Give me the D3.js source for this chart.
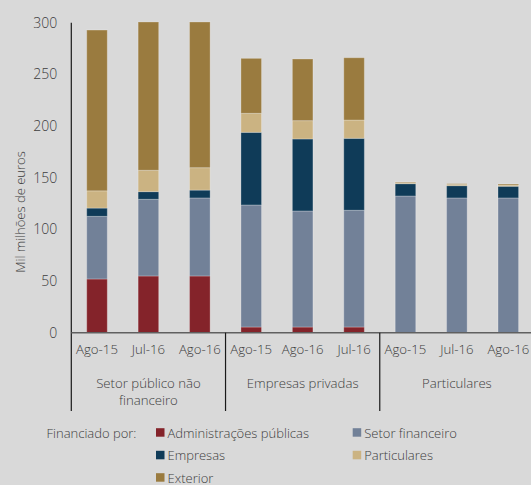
<!DOCTYPE html>
<html>
<head>
<meta charset="utf-8">
<script src="https://cdn.jsdelivr.net/npm/d3@7"></script>
<style>
  body { margin: 0; background: #d9d9d9; }
  svg { display: block; font-family: "Open Sans", sans-serif; font-weight: 300; }
  text { fill: #3d3d3d; }
</style>
</head>
<body>
<svg id="chart" width="531" height="485"></svg>
<script>
"use strict";

// Data
const groups = ["Setor público não|financeiro", "Empresas privadas", "Particulares"];
const periods = [
  ["Ago-15", "Jul-16", "Ago-16"],
  ["Ago-15", "Ago-16", "Jul-16"],
  ["Ago-15", "Jul-16", "Ago-16"]
];
const seriesNames = ["Administrações públicas", "Setor financeiro", "Empresas", "Particulares", "Exterior"];
const seriesColors = ["#84232a", "#728198", "#0f3b58", "#cbb382", "#9a7b3f"];

// values per bar, in bar order (mil milhões de euros)
const adminPublicas = [52, 54.9, 54.9, 5.5, 5.5, 5.5, 0, 0, 0];
const setorFinanceiro = [60.6, 74.2, 75.5, 118.1, 112.3, 113, 132.3, 130.4, 130.4];
const empresas = [8, 7.4, 7.6, 70.3, 69.7, 69.6, 11.9, 11.9, 11.3];
const particulares = [16.7, 20.7, 21.7, 18.4, 17.7, 17.7, 1, 1.3, 1.2];
const exterior = [155.6, 143.5, 141, 53.2, 59.7, 60.3, 0.6, 0.6, 1];

const yTicks = [0, 50, 100, 150, 200, 250, 300];

// build table
const bars = [];
groups.forEach((g, gi) => {
  periods[gi].forEach((p, pi) => {
    const i = gi * 3 + pi;
    bars.push({
      id: i, group: gi, period: p,
      s0: adminPublicas[i], s1: setorFinanceiro[i], s2: empresas[i],
      s3: particulares[i], s4: exterior[i]
    });
  });
});

const svg = d3.select("#chart");
const plot = { left: 71.3, right: 534, top: 22.7, bottom: 332.7 };

const x = d3.scaleBand()
  .domain(bars.map(d => d.id))
  .range([plot.left, plot.right])
  .paddingInner(0.6)
  .paddingOuter(0.3);

const y = d3.scaleLinear()
  .domain([0, 300])
  .range([plot.bottom, plot.top]);

const stack = d3.stack().keys(["s0", "s1", "s2", "s3", "s4"]);
const layers = stack(bars);

svg.append("g")
  .selectAll("g")
  .data(layers)
  .join("g")
  .attr("fill", (d, i) => seriesColors[i])
  .selectAll("rect")
  .data(d => d)
  .join("rect")
  .attr("x", d => x(d.data.id))
  .attr("width", x.bandwidth())
  .attr("y", d => y(d[1]))
  .attr("height", d => Math.max(0, y(d[0]) - y(d[1])))
  .attr("stroke", "rgba(255,255,255,0.25)")
  .attr("stroke-width", 1);

// y axis
const yAxis = d3.axisLeft(y).tickValues(yTicks).tickSize(0).tickPadding(14);
const gY = svg.append("g")
  .attr("transform", "translate(" + plot.left + ",0)")
  .call(yAxis);
gY.select(".domain").remove();
gY.selectAll("text")
  .attr("font-size", 14)
  .attr("font-family", "Open Sans")
  .style("fill", "#3d3d3d");

svg.append("line")
  .attr("x1", plot.left).attr("x2", plot.left)
  .attr("y1", plot.top).attr("y2", 411)
  .attr("stroke", "#1a1a1a").attr("stroke-width", 1.2);

// x axis
svg.append("line")
  .attr("x1", plot.left).attr("x2", 531)
  .attr("y1", plot.bottom).attr("y2", plot.bottom)
  .attr("stroke", "#606060").attr("stroke-width", 1.5);

const xAxis = d3.axisBottom(x).tickSize(0).tickPadding(12)
  .tickFormat(i => bars[i].period);
const gX = svg.append("g")
  .attr("transform", "translate(0," + plot.bottom + ")")
  .call(xAxis);
gX.select(".domain").remove();
gX.selectAll("text")
  .attr("font-size", 13.2)
  .attr("font-family", "Open Sans")
  .style("fill", "#3d3d3d");

// group separators and labels
const step = x.step();
const groupStart = gi => plot.left + gi * 3 * step;
[1, 2].forEach(gi => {
  svg.append("line")
    .attr("x1", groupStart(gi)).attr("x2", groupStart(gi))
    .attr("y1", plot.bottom).attr("y2", 411)
    .attr("stroke", "#1a1a1a").attr("stroke-width", 1.2);
});

groups.forEach((g, gi) => {
  const cx = groupStart(gi) + 1.5 * step;
  const t = svg.append("text")
    .attr("x", cx)
    .attr("y", 387.5)
    .attr("text-anchor", "middle")
    .attr("font-size", 13.2);
  g.split("|").forEach((line, li) => {
    t.append("tspan").attr("x", cx).attr("dy", li === 0 ? 0 : 17.5).text(line);
  });
});

// y label
svg.append("text")
  .attr("transform", "translate(24.5,212) rotate(-90)")
  .attr("text-anchor", "middle")
  .attr("font-size", 13)
  .text("Mil milhões de euros");

// legend
svg.append("text")
  .attr("x", 46.5).attr("y", 437.5)
  .attr("font-size", 13)
  .text("Financiado por:");

const legendPos = [[156, 432.7], [352.7, 432.7], [156, 455.3], [352.7, 455.3], [156, 477.7]];
const legendOrder = [0, 1, 2, 3, 4];
const lg = svg.append("g")
  .selectAll("g")
  .data(legendOrder)
  .join("g")
  .attr("transform", (d, i) => "translate(" + legendPos[i][0] + "," + legendPos[i][1] + ")");
lg.append("rect")
  .attr("x", 0).attr("y", -4.5)
  .attr("width", 8.5).attr("height", 8.5)
  .attr("fill", d => seriesColors[d]);
lg.append("text")
  .attr("x", 11.5).attr("y", 4.8)
  .attr("font-size", 13)
  .text(d => seriesNames[d]);
</script>
</body>
</html>
